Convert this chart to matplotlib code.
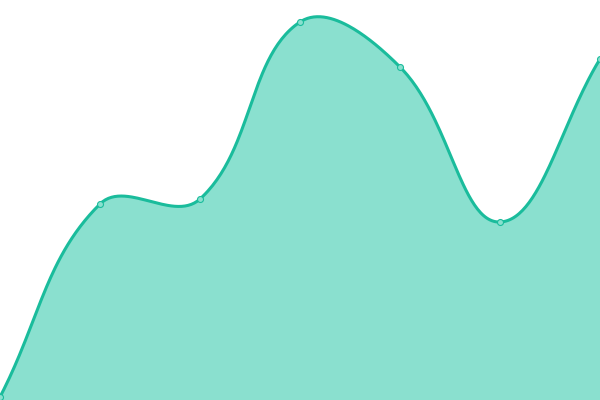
import numpy as np
import matplotlib.pyplot as plt

## Data (height above bottom)
x_vals = [0, 100, 200, 300, 400, 500, 600]
y_vals = [3, 196, 201, 378, 333, 178, 341]

line_color = '#1abc9c'
fill_color = '#8ae0cf'
tension = 0.4


def spline_path(xs, ys, t=0.4, n=60):
    # cubic bezier through points, control points like chart.js splineCurve
    xs = np.asarray(xs, float)
    ys = np.asarray(ys, float)
    m = len(xs)
    cps = []
    for i in range(m):
        p = (xs[max(i - 1, 0)], ys[max(i - 1, 0)])
        c = (xs[i], ys[i])
        nx = (xs[min(i + 1, m - 1)], ys[min(i + 1, m - 1)])
        d01 = np.hypot(c[0] - p[0], c[1] - p[1])
        d12 = np.hypot(nx[0] - c[0], nx[1] - c[1])
        tot = d01 + d12
        s01 = d01 / tot if tot else 0
        s12 = d12 / tot if tot else 0
        fa, fb = t * s01, t * s12
        prev_cp = (c[0] - fa * (nx[0] - p[0]), c[1] - fa * (nx[1] - p[1]))
        next_cp = (c[0] + fb * (nx[0] - p[0]), c[1] + fb * (nx[1] - p[1]))
        cps.append((prev_cp, next_cp))
    px, py = [], []
    u = np.linspace(0, 1, n)
    for i in range(m - 1):
        p0 = np.array([xs[i], ys[i]])
        p1 = np.array(cps[i][1])
        p2 = np.array(cps[i + 1][0])
        p3 = np.array([xs[i + 1], ys[i + 1]])
        b = ((1 - u) ** 3)[:, None] * p0 + (3 * (1 - u) ** 2 * u)[:, None] * p1 \
            + (3 * (1 - u) * u ** 2)[:, None] * p2 + (u ** 3)[:, None] * p3
        px.extend(b[:, 0])
        py.extend(b[:, 1])
    return np.array(px), np.array(py)


cx, cy = spline_path(x_vals, y_vals, tension)

fig = plt.figure(figsize=(6, 4), dpi=100)
ax = fig.add_axes([0, 0, 1, 1])
ax.fill_between(cx, cy, 0, color=fill_color, linewidth=0)
ax.plot(cx, cy, color=line_color, linewidth=2.2, solid_capstyle='round')
ax.plot(x_vals, y_vals, 'o', markersize=4.3, markerfacecolor=fill_color,
        markeredgecolor=line_color, markeredgewidth=0.8)
ax.set_xlim(0, 600)
ax.set_ylim(0, 400)
ax.axis('off')
fig.savefig('out.png', dpi=100)
